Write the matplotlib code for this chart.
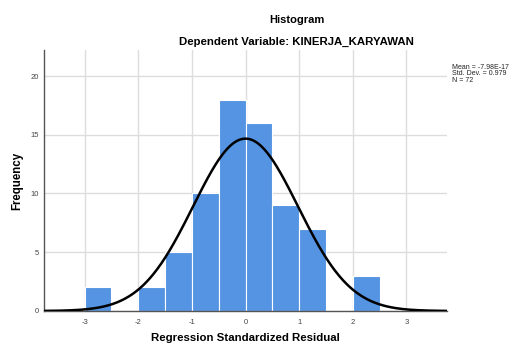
import numpy as np
import matplotlib
matplotlib.use("Agg")
import matplotlib.pyplot as plt

# histogram data (bin width 0.5)
bin_left = [-3.0, -2.0, -1.5, -1.0, -0.5, 0.0, 0.5, 1.0, 2.0]
counts = [2, 2, 5, 10, 18, 16, 9, 7, 3]
bin_width = 0.5
mean = -7.98e-17
std = 0.979
n = 72

x_ticks = [-3, -2, -1, 0, 1, 2, 3]
y_ticks = [0, 5, 10, 15, 20]

plt.rcParams['font.family'] = ['Liberation Sans', 'DejaVu Sans']

fig = plt.figure(figsize=(5.11, 3.45), dpi=100)
ax = fig.add_axes([0.086, 0.0986, 0.789, 0.756])

ax.bar(bin_left, counts, width=bin_width, align='edge', color='#5594e2',
       edgecolor='white', linewidth=0.8, zorder=2)

xs = np.linspace(-3.76, 3.76, 400)
ys = n * bin_width * np.exp(-0.5 * ((xs - mean) / std) ** 2) / (std * np.sqrt(2 * np.pi))
ax.plot(xs, ys, color='black', linewidth=1.8, zorder=3)

ax.set_xlim(-3.76, 3.76)
ax.set_ylim(0, 22.2)
ax.set_xticks(x_ticks)
ax.set_yticks(y_ticks)
ax.set_xticklabels([str(t) for t in x_ticks])
ax.tick_params(axis='both', length=0, labelsize=5.5, labelcolor='#444444')
ax.tick_params(axis='x', pad=6)
ax.tick_params(axis='y', pad=3.5)
ax.grid(color='#dddddd', linewidth=1.0, zorder=0)
ax.set_axisbelow(True)
for s in ['top', 'right']:
    ax.spines[s].set_visible(False)
for s in ['left', 'bottom']:
    ax.spines[s].set_color('#555555')
    ax.spines[s].set_linewidth(1.0)

ax.set_xlabel("Regression Standardized Residual", fontsize=8.2, fontweight='bold', labelpad=4.5)
ax.set_ylabel("Frequency", fontsize=8.3, fontweight='bold', labelpad=5)

fig.text(0.581, 0.942, "Histogram", ha='center', va='center', fontsize=8, fontweight='bold')
fig.text(0.581, 0.878, "Dependent Variable: KINERJA_KARYAWAN", ha='center', va='center',
         fontsize=8.2, fontweight='bold')
fig.text(0.884, 0.786, "Mean = -7.98E-17\nStd. Dev. = 0.979\nN = 72", ha='left', va='center',
         fontsize=5.0, linespacing=0.95, color='#222222')

fig.savefig("out.png", dpi=100)
